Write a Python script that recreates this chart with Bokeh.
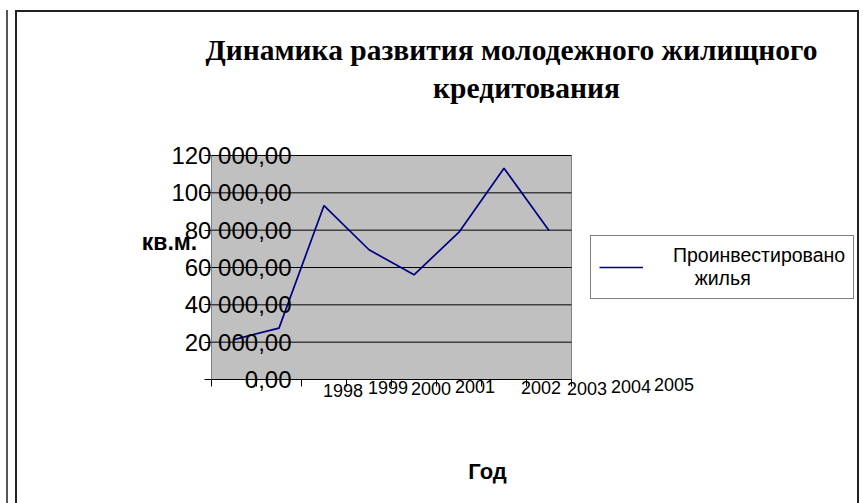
from bokeh.plotting import figure
from bokeh.models import (Range1d, FixedTicker, Label, Legend, LegendItem,
                          CustomJSTickFormatter, LinearAxis)
from bokeh.embed import file_html
from bokeh.resources import INLINE

# ---- data ----
title_line1 = "Динамика развития молодежного жилищного"
title_line2 = "кредитования"
y_axis_title = "кв.м."
x_axis_title = "Год"
series_name = "Проинвестировано\n    жилья"

years = [1998, 1999, 2000, 2001, 2002, 2003, 2004, 2005]
year_labels = ["1998", "1999", "2000", "2001", "2002", "2003", "2004", "2005"]
invested = [21400, 27500, 93200, 69500, 56100, 78900, 113200, 79800]

y_ticks = [0, 20000, 40000, 60000, 80000, 100000, 120000]
y_tick_labels = ["0,00", "20 000,00", "40 000,00", "60 000,00",
                 "80 000,00", "100 000,00", "120 000,00"]

# ---- styles / offsets (screen px) of the misplaced category labels ----
x_label_dx = [109, 109, 107, 106, 127, 128, 127, 125]
x_label_dy = [-11, -8, -9, -7, -8, -9, -7, -5]

SANS = "Liberation Sans"
SERIF = "Liberation Serif"

x_lo, x_hi = years[0] - 0.5, years[-1] + 0.5
y_lo, y_hi = y_ticks[0], y_ticks[-1]

# The frame covers the whole chart area; the grey plot area is drawn inside it.
p = figure(width=840, height=491, frame_width=780, frame_height=471,
           x_range=Range1d(years[0] - 3.478, years[-1] + 6.856),
           y_range=Range1d(-55714, 196607),
           output_backend="svg", toolbar_location=None,
           x_axis_type=None, y_axis_type=None,
           min_border_left=60, min_border_right=0,
           min_border_top=0, min_border_bottom=20,
           background_fill_color="white", border_fill_color="white",
           outline_line_color=None)

p.styles = {"margin-left": "15px", "margin-top": "10px",
            "border-left": "2px solid #222", "border-top": "2px solid #222",
            "border-right": "2px solid #222",
            "box-shadow": "-7px 0 0 0 white, -9px 0 0 0 #555"}

p.xgrid.visible = False
p.ygrid.visible = False

# grey plot area
p.quad(left=[x_lo], right=[x_hi], bottom=[y_lo], top=[y_hi],
       fill_color="#c0c0c0", line_color="#808080", line_width=1)

# horizontal gridlines
p.segment(x0=[x_lo] * len(y_ticks), x1=[x_hi] * len(y_ticks),
          y0=y_ticks, y1=y_ticks, line_color="black", line_width=1)

# series
r = p.line(years, invested, line_color="#000080", line_width=1.7)

# y axis, fixed at the left edge of the plot area
yaxis = LinearAxis(fixed_location=x_lo, bounds=(y_lo, y_hi),
                   ticker=FixedTicker(ticks=y_ticks),
                   major_label_overrides={t: s for t, s in zip(y_ticks, y_tick_labels)},
                   major_label_standoff=-87, major_tick_out=7, major_tick_in=0,
                   minor_tick_out=0, minor_tick_in=0,
                   axis_line_color="#808080", major_tick_line_color="black",
                   major_label_text_font=SANS, major_label_text_font_size="24px",
                   major_label_text_color="black")
p.add_layout(yaxis, "left")

# x axis, tick marks between categories
xaxis = LinearAxis(fixed_location=y_lo, bounds=(x_lo, x_hi),
                   ticker=FixedTicker(ticks=[y - 0.5 for y in years] + [x_hi]),
                   formatter=CustomJSTickFormatter(code="return ''"),
                   major_tick_out=7, major_tick_in=0,
                   minor_tick_out=0, minor_tick_in=0,
                   axis_line_color="black", major_tick_line_color="black")
p.add_layout(xaxis, "below")

# category labels (drawn where the reference shows them)
for yr, lab, dx, dy in zip(years, year_labels, x_label_dx, x_label_dy):
    p.add_layout(Label(x=yr, y=y_lo, text=lab, x_offset=dx, y_offset=dy,
                       text_align="center", text_baseline="middle",
                       text_font=SANS, text_font_size="18px", text_color="black"))

# titles (screen units relative to the frame's bottom-left corner)
p.add_layout(Label(x=434, y=434, x_units="screen", y_units="screen",
                   text=title_line1, text_align="center", text_baseline="middle",
                   text_font=SERIF, text_font_size="29.5px", text_font_style="bold",
                   text_color="black"))
p.add_layout(Label(x=449, y=396, x_units="screen", y_units="screen",
                   text=title_line2, text_align="center", text_baseline="middle",
                   text_font=SERIF, text_font_size="29.5px", text_font_style="bold",
                   text_color="black"))
p.add_layout(Label(x=92, y=242, x_units="screen", y_units="screen",
                   text=y_axis_title, text_align="center", text_baseline="middle",
                   text_font=SANS, text_font_size="23px", text_font_style="bold",
                   text_color="black"))
p.add_layout(Label(x=410, y=12, x_units="screen", y_units="screen",
                   text=x_axis_title, text_align="center", text_baseline="middle",
                   text_font=SANS, text_font_size="22px", text_font_style="bold",
                   text_color="black"))

legend = Legend(items=[LegendItem(label=series_name, renderers=[r])],
                location=(513, 184), margin=0, padding=8, spacing=0,
                glyph_width=44, label_standoff=30,
                border_line_color="black", border_line_width=1,
                background_fill_color="white", background_fill_alpha=1,
                label_text_font=SANS, label_text_font_size="19.5px",
                label_text_color="black")
p.add_layout(legend, "center")

open("out.html", "w").write(file_html(p, INLINE))
